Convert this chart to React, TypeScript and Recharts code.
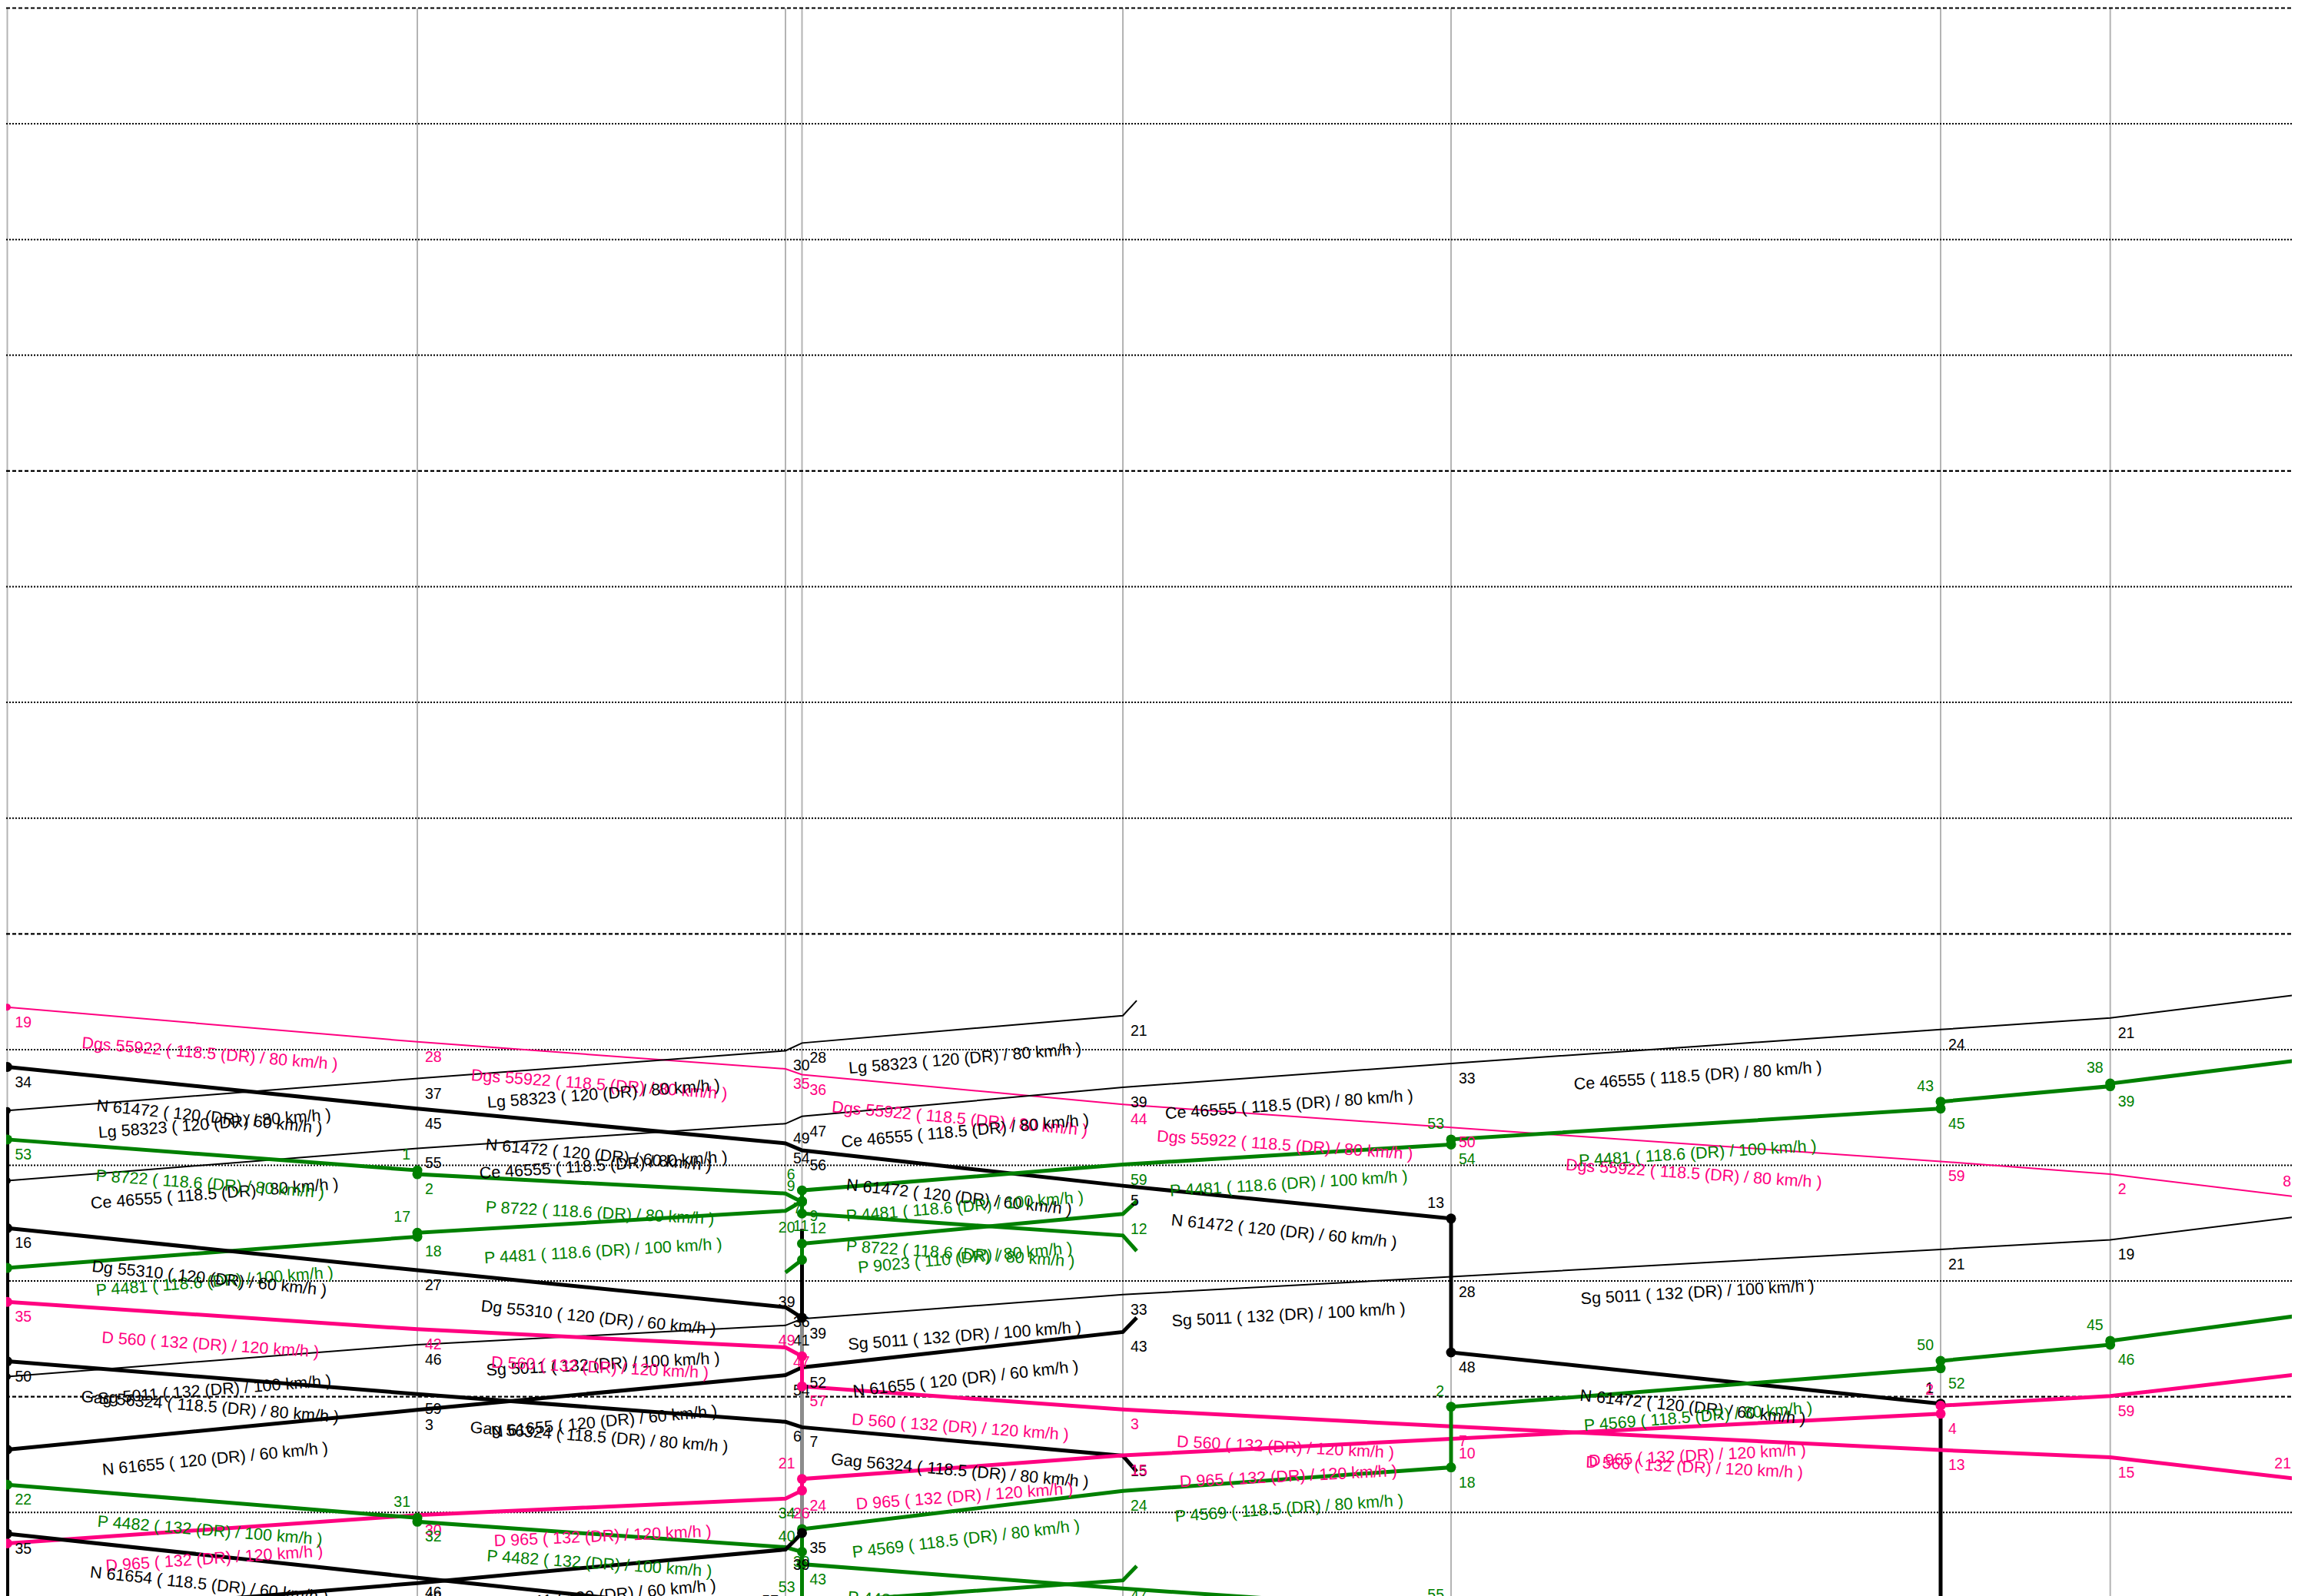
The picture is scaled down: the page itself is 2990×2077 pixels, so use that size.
import React, { useEffect } from 'react';
import { LineChart, Line, XAxis, YAxis, ReferenceLine } from 'recharts';

// ---------- data ----------
// station positions (km); index 9 = branch junction tip beyond station 4
const STATION_KM = [0, 5.335, 10.125, 10.34, 14.515, 18.785, 25.155, 27.362, 29.805, 14.695];
const STATION_LINES = [0, 1, 2, 3, 4, 5, 6, 7, 8];
const X_DOMAIN = [-0.015, 29.805];
const T_DOMAIN = [0, 411.65]; // minutes from the top of the sheet
const GRID_TIMES = [0, 30, 60, 90, 120, 150, 180, 210, 240, 270, 300, 330, 360, 390];
const MAJOR_EVERY = 120;

// stops: [station, arrival(min), departure(min)?, flag?]
const DGS_55922 = [[0, 259], [1, 268], [2, 275], [3, 276.5], [4, 284.2], [5, 290.2], [6, 299], [7, 302.3], [8, 308.2]];
const N_61472 = [[0, 274.5], [1, 285.3], [2, 294.3], [3, 296.1], [4, 305.3], [5, 313.8, 348.5], [6, 361.8, 440]];
const LG_58323 = [[9, 257.3], [4, 261.2], [3, 268.3], [2, 270.3], [1, 277.5], [0, 285.8]];
const CE_46555 = [[8, 255.8], [7, 261.8], [6, 264.8], [5, 273.6], [4, 279.8], [3, 287.3], [2, 289.2], [1, 295.6], [0, 304]];
const P_8722 = [[0, 293.3], [1, 301.3, 302.3], [2, 307.3], [3, 309.5, 312.5], [4, 318.2, undefined, 'n'], [9, 322.2]];
const P_4481 = [[8, 272.8], [7, 278.8, 279.5], [6, 283.5, 285.3], [5, 293.3, 294.6], [4, 299.8], [3, 306.5, 309.3], [2, 311.8], [1, 317.5, 318.5], [0, 326.6]];
const P_9023 = [[9, 309.3], [4, 312.6], [3, 320.3, 324.5, 'nd'], [2, 327.8, undefined, 'h']];
const DG_55310 = [[0, 316.3], [1, 327.2], [2, 336.8], [3, 339.5]];
const SG_5011 = [[8, 313.3], [7, 319.3], [6, 321.8], [5, 328.9], [4, 333.5], [3, 339.8], [2, 341.5], [1, 346.5], [0, 354.8]];
const N_61655 = [[9, 339.5], [4, 343.2], [3, 352.4], [2, 354.4], [1, 363.4], [0, 373.7]];
const GAG_56324 = [[0, 350.8], [1, 359.3], [2, 366.5], [3, 367.9], [4, 375.3], [9, 379.4]];
const D_560 = [[0, 335.4], [1, 342.5], [2, 347.2], [3, 349.5, 357.3], [4, 363.3], [5, 367.7], [6, 373.8], [7, 375.7], [8, 381.3]];
const D_965 = [[8, 354.2], [7, 359.8], [6, 362.3, 364.4], [5, 370.9], [4, 375.2], [3, 381.3, 384.3], [2, 386.4], [1, 390.7], [0, 398]];
const P_4569 = [[8, 339], [7, 345.5, 346.5], [6, 350.7, 352.6], [5, 362.6, 378.3], [4, 384.4], [3, 394.3, 440]];
const P_4482 = [[0, 382.8], [1, 391.4, 392.4], [2, 399], [3, 400.2, 403.4], [4, 409.7], [5, 415.5]];
const P_4480 = [[9, 403.9], [4, 407.6], [3, 413.5]];
const N_61654 = [[0, 395.5], [1, 406.9], [2, 417]];
const SG_5011_RET = [[3, 395.3], [2, 399.6], [1, 408.3], [0, 417]];

const TRAINS = [
  { id: 'Dgs 55922', label: 'Dgs 55922 ( 118.5 (DR) / 80 km/h )', stops: DGS_55922 },
  { id: 'Lg 58323', label: 'Lg 58323 ( 120 (DR) / 80 km/h )', stops: LG_58323 },
  { id: 'Ce 46555', label: 'Ce 46555 ( 118.5 (DR) / 80 km/h )', stops: CE_46555 },
  { id: 'Sg 5011', label: 'Sg 5011 ( 132 (DR) / 100 km/h )', stops: SG_5011 },
  { id: 'N 61472', label: 'N 61472 ( 120 (DR) / 60 km/h )', stops: N_61472 },
  { id: 'P 8722', label: 'P 8722 ( 118.6 (DR) / 80 km/h )', stops: P_8722 },
  { id: 'P 4481', label: 'P 4481 ( 118.6 (DR) / 100 km/h )', stops: P_4481 },
  { id: 'P 9023', label: 'P 9023 ( 110 (DR) / 80 km/h )', stops: P_9023 },
  { id: 'Dg 55310', label: 'Dg 55310 ( 120 (DR) / 60 km/h )', stops: DG_55310 },
  { id: 'N 61655', label: 'N 61655 ( 120 (DR) / 60 km/h )', stops: N_61655 },
  { id: 'Gag 56324', label: 'Gag 56324 ( 118.5 (DR) / 80 km/h )', stops: GAG_56324 },
  { id: 'D 560', label: 'D 560 ( 132 (DR) / 120 km/h )', stops: D_560 },
  { id: 'D 965', label: 'D 965 ( 132 (DR) / 120 km/h )', stops: D_965 },
  { id: 'P 4569', label: 'P 4569 ( 118.5 (DR) / 80 km/h )', stops: P_4569 },
  { id: 'P 4482', label: 'P 4482 ( 132 (DR) / 100 km/h )', stops: P_4482 },
  { id: 'P 4480', label: 'P 4480 ( 132 (DR) / 100 km/h )', stops: P_4480 },
  { id: 'N 61654', label: 'N 61654 ( 118.5 (DR) / 60 km/h )', stops: N_61654 },
  { id: 'Sg 5011 R', label: 'Sg 5011 ( 120 (DR) / 60 km/h )', stops: SG_5011_RET },
];

// standing (occupation) bars: [station, from, to]
const STAND_LG = [0, 285.8, 440];
const STAND_S2B_A = [3, 316.5, 339.5];
const STAND_S2B_B = [3, 339.5, 395.3];

// ---------- styles ----------
const PINK = '#ff0080';
const GREEN = '#008000';
const BLACK = '#000000';
const GREY = '#8c8c8c';
const STYLE = {
  'Dgs 55922': { c: PINK, w: 2 },
  'Lg 58323': { c: BLACK, w: 2 },
  'Ce 46555': { c: BLACK, w: 2 },
  'Sg 5011': { c: BLACK, w: 2 },
  'N 61472': { c: BLACK, w: 5 },
  'P 8722': { c: GREEN, w: 5 },
  'P 4481': { c: GREEN, w: 5 },
  'P 9023': { c: GREEN, w: 5 },
  'Dg 55310': { c: BLACK, w: 5 },
  'N 61655': { c: BLACK, w: 5 },
  'Gag 56324': { c: BLACK, w: 5 },
  'D 560': { c: PINK, w: 5 },
  'D 965': { c: PINK, w: 5 },
  'P 4569': { c: GREEN, w: 5 },
  'P 4482': { c: GREEN, w: 5 },
  'P 4480': { c: GREEN, w: 5 },
  'N 61654': { c: BLACK, w: 5 },
  'Sg 5011 R': { c: BLACK, w: 5 },
};
const STANDS = [
  { d: STAND_LG, c: BLACK },
  { d: STAND_S2B_A, c: BLACK },
  { d: STAND_S2B_B, c: GREY },
];
const FONT = 'Liberation Sans, Arial, sans-serif';
const MIN_FS = 19.5;
const LAB_FS = 21.5;
const LAB_OFF = 38;
const LAB_MIN_SEG = 340;

function buildPoints(stops: any[]) {
  const out: any[] = [];
  const n = stops.length;
  stops.forEach((s: any[], i: number) => {
    const [st, a, d, f] = s;
    const x = STATION_KM[st];
    const hidden = st === 9 || f === 'h';
    if (d !== undefined && d !== a) {
      out.push({ x, t: a, kind: 'arr', dot: true, hidden, nolab: f === 'n' || f === 'na' });
      out.push({ x, t: d, kind: 'dep', dot: true, hidden, nolab: f === 'n' || f === 'nd' });
    } else {
      const kind = i === 0 ? 'dep' : i === n - 1 ? 'arr' : 'pass';
      out.push({ x, t: a, kind, dot: i === 0 || i === n - 1, hidden, nolab: f === 'n' });
    }
  });
  return out;
}

function makeDot(label: string, color: string, w: number) {
  const r = w > 3 ? 6.5 : 4.5;
  return (props: any) => {
    const { cx, cy, index, payload, points } = props;
    const kids: any[] = [];
    if (payload && !payload.hidden && cx != null && cy != null) {
      if (payload.dot) kids.push(<circle key="c" cx={cx} cy={cy} r={r} fill={color} />);
      if (!payload.nolab) {
        const m = Math.floor(payload.t + 1e-6) % 60;
        if (payload.kind === 'arr') {
          kids.push(
            <text key="m" x={cx - 9} y={cy - 21} textAnchor="end" dominantBaseline="central"
              fontFamily={FONT} fontSize={MIN_FS} fill={color}>{m}</text>
          );
        } else {
          kids.push(
            <text key="m" x={cx + 10} y={cy + 19} textAnchor="start" dominantBaseline="central"
              fontFamily={FONT} fontSize={MIN_FS} fill={color}>{m}</text>
          );
        }
      }
    }
    if (index === 0 && Array.isArray(points)) {
      for (let i = 0; i + 1 < points.length; i++) {
        let p = points[i];
        let q = points[i + 1];
        if (p == null || q == null || p.x == null || q.x == null) continue;
        if (Math.abs(q.x - p.x) < LAB_MIN_SEG) continue;
        if (q.x < p.x) { const tmp = p; p = q; q = tmp; }
        const ang = Math.atan2(q.y - p.y, q.x - p.x);
        const mx = (p.x + q.x) / 2 - LAB_OFF * Math.sin(ang);
        const my = (p.y + q.y) / 2 + LAB_OFF * Math.cos(ang);
        kids.push(
          <text key={'s' + i} transform={`translate(${mx},${my}) rotate(${(ang * 180) / Math.PI})`}
            textAnchor="middle" dominantBaseline="central" fontFamily={FONT} fontSize={LAB_FS} fill={color}>
            {label}
          </text>
        );
      }
    }
    return <g key={'dot-' + index}>{kids}</g>;
  };
}

export default function App() {
  useEffect(() => {
    document.documentElement.style.overflow = 'hidden';
    if (document.body) document.body.style.overflow = 'hidden';
  }, []);
  const W = 2982;
  const H = 2069;
  return (
    <div style={{ width: W, height: H, overflow: 'hidden', background: '#fff' }}>
      <LineChart width={W} height={H} margin={{ top: 2.5, right: 0, bottom: 0, left: 0 }}>
        <XAxis type="number" dataKey="x" domain={X_DOMAIN} allowDataOverflow hide />
        <YAxis type="number" domain={T_DOMAIN} reversed allowDataOverflow hide />
        {STATION_LINES.map((s) => (
          <ReferenceLine key={'st' + s} x={STATION_KM[s]} stroke="#b4b4b4" strokeWidth={2} />
        ))}
        {GRID_TIMES.map((t) => (
          <ReferenceLine key={'g' + t} y={t} stroke="#000"
            strokeWidth={t % MAJOR_EVERY === 0 ? 2.2 : 2}
            strokeDasharray={t % MAJOR_EVERY === 0 ? '5 3' : '2 2'} />
        ))}
        {STANDS.map((s, i) => (
          <Line key={'stand' + i} data={[{ x: STATION_KM[s.d[0]], t: s.d[1] }, { x: STATION_KM[s.d[0]], t: s.d[2] }]}
            dataKey="t" stroke={s.c} strokeWidth={5} dot={false} activeDot={false}
            isAnimationActive={false} type="linear" legendType="none" />
        ))}
        {TRAINS.map((tr) => {
          const st = (STYLE as any)[tr.id];
          return (
            <Line key={tr.id} data={buildPoints(tr.stops)} dataKey="t" type="linear"
              stroke={st.c} strokeWidth={st.w} dot={makeDot(tr.label, st.c, st.w)}
              activeDot={false} isAnimationActive={false} legendType="none" />
          );
        })}
      </LineChart>
    </div>
  );
}
